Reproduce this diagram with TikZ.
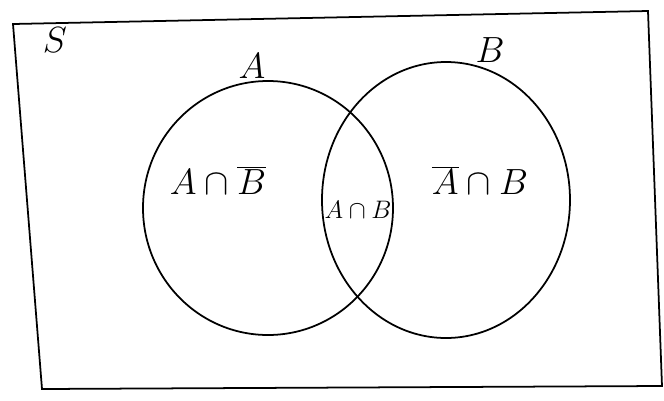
\documentclass[tikz,border=0pt]{standalone}
\usetikzlibrary{positioning}
\tikzset{
  pen/.style={line width=1pt, black},
  setname/.style={font=\huge},
  region/.style={font=\huge},
}
\begin{document}
\begin{tikzpicture}[x=0.02cm, y=-0.02cm]
            \useasboundingbox (0,0) rectangle (664,400);
            % sample space, a bit skewed like the sketch
            \coordinate (tl) at (13,24);
            \coordinate (tr) at (648,11);
            \coordinate (br) at (662,386);
            \coordinate (bl) at (42,389);
            \draw[pen] (tl) -- (tr) -- (br) -- (bl) -- cycle;
            % the two sets
            \draw[pen] (268,208) ellipse (125 and 127);
            \draw[pen] (446,200) ellipse (124 and 138);
            % labels
            \node[setname] (S) at (55,40) {$S$};
            \node[setname] (A) at (252,66) {$A$};
            \node[setname] (B) at (490,50) {$B$};
            \node[region] (AnotB) at (218,180) {$A\cap\overline{B}$};
            \node[region, font=\Large, inner sep=0pt] (AB) at (358,210) {$A\cap B$};
            \node[region] (notAB) at (480,180) {$\overline{A}\cap B$};
        \end{tikzpicture}
\end{document}
